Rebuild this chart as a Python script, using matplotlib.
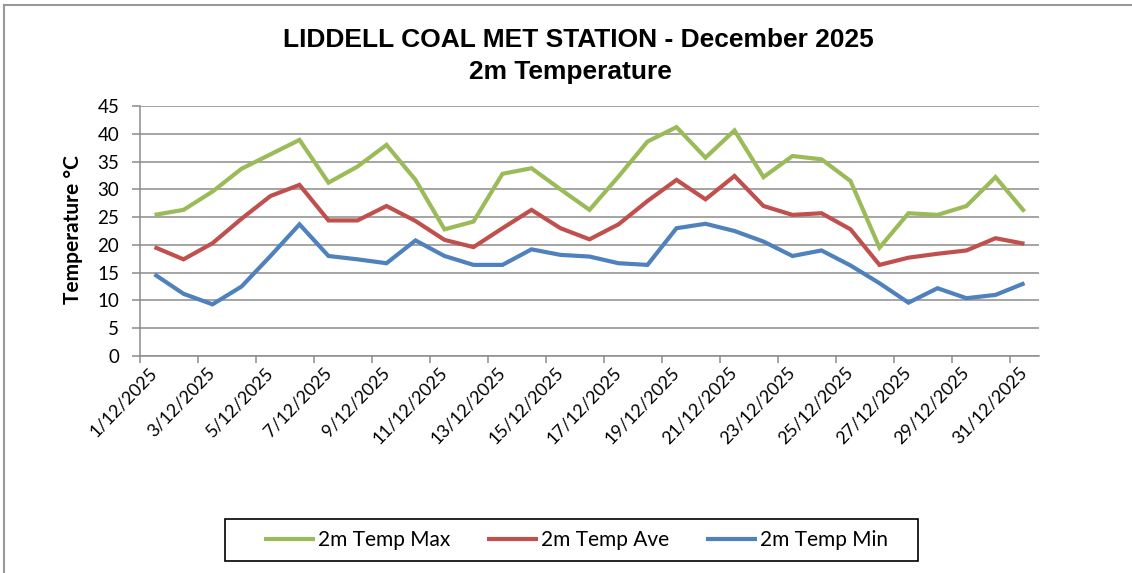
import matplotlib
matplotlib.use("Agg")
import matplotlib.pyplot as plt
from matplotlib.lines import Line2D
from matplotlib.patches import Rectangle
import numpy as np

# Daily 2 m air temperatures, December 2025 (°C)
days = [f"{d}/12/2025" for d in range(1, 32)]
temp_max = [25.4, 26.3, 29.6, 33.7, 36.3, 38.9, 31.2, 34.1, 38.0, 31.7,
            22.8, 24.2, 32.8, 33.8, 30.0, 26.3, 32.3, 38.6, 41.2, 35.7,
            40.6, 32.2, 36.0, 35.4, 31.5, 19.5, 25.7, 25.4, 27.0, 32.2, 26.0]
temp_ave = [19.6, 17.4, 20.3, 24.7, 28.8, 30.8, 24.4, 24.4, 27.0, 24.3,
            20.9, 19.6, 23.0, 26.3, 23.0, 21.0, 23.7, 27.9, 31.7, 28.2,
            32.4, 27.0, 25.4, 25.7, 22.8, 16.4, 17.7, 18.4, 19.0, 21.2, 20.2]
temp_min = [14.7, 11.2, 9.3, 12.5, 18.0, 23.7, 18.0, 17.4, 16.7, 20.8,
            18.0, 16.4, 16.4, 19.2, 18.2, 17.9, 16.7, 16.4, 23.0, 23.8,
            22.5, 20.6, 18.0, 19.0, 16.3, 13.1, 9.6, 12.2, 10.4, 11.0, 13.1]
series_labels = ["2m Temp Max", "2m Temp Ave", "2m Temp Min"]
y_ticks = list(range(0, 50, 5))

colors = ["#9BBB59", "#C0504D", "#4F81BD"]
grid_color = "#8C8C8C"
label_font = "Lato"

W, H = 1132, 573
fig = plt.figure(figsize=(W / 100, H / 100), dpi=100)
ax = fig.add_axes([140 / W, 1 - 356 / H, (1039 - 140) / W, (356 - 106) / H])

x = np.arange(len(days))
for vals, col, lab in zip([temp_max, temp_ave, temp_min], colors, series_labels):
    ax.plot(x, vals, color=col, lw=3.0, label=lab, solid_joinstyle="miter",
            solid_capstyle="butt")

ax.set_xlim(-0.5, len(days) - 0.5)
ax.set_ylim(0, 45)
ax.set_yticks(y_ticks)
ax.set_yticklabels([str(v) for v in y_ticks], fontfamily=label_font, fontsize=13.5)
ax.yaxis.grid(True, color=grid_color, lw=1.1)
ax.set_axisbelow(True)

# tick marks on category boundaries, labels on every second day
ax.set_xticks(np.arange(-0.5, len(days) - 1, 2))
ax.set_xticklabels([])
ax.set_xticks(x[::2], minor=True)
ax.set_xticklabels(days[::2], minor=True, rotation=46, ha="right", va="center",
                   rotation_mode="anchor", fontfamily=label_font, fontsize=13)
ax.tick_params(axis="x", which="major", length=5, width=1.1, color=grid_color)
ax.tick_params(axis="x", which="minor", length=0, pad=10)
ax.tick_params(axis="y", length=6, width=1.1, color=grid_color, pad=9)

for s in ["top", "right"]:
    ax.spines[s].set_visible(False)
for s in ["left", "bottom"]:
    ax.spines[s].set_color(grid_color)
    ax.spines[s].set_linewidth(1.1)

fig.text(578 / W, 1 - 40 / H, "LIDDELL COAL MET STATION - December 2025",
         ha="center", va="center", fontsize=19, fontweight="bold",
         fontfamily="Liberation Sans")
fig.text(570 / W, 1 - 72 / H, "2m Temperature",
         ha="center", va="center", fontsize=19, fontweight="bold",
         fontfamily="Liberation Sans")
fig.text(73 / W, 1 - 230 / H, "Temperature °C", rotation=90, ha="center",
         va="center", fontsize=15, fontweight="bold", fontfamily=label_font)

# legend entries, with a separate black box around them
fig.legend(loc="center", bbox_to_anchor=(576 / W, 1 - 540 / H), ncol=3,
           frameon=False, prop={"family": label_font, "size": 15},
           handlelength=2.45, handletextpad=0.15, columnspacing=1.75,
           borderpad=0.45, borderaxespad=0)
fig.add_artist(Rectangle((225 / W, 1 - 561 / H), (918 - 225) / W, 42 / H,
                         transform=fig.transFigure, fill=False,
                         edgecolor="black", lw=1.2))

# outer chart frame (top and left edges)
fig.add_artist(Line2D([3.5 / W, 1], [1 - 4.5 / H, 1 - 4.5 / H],
                      transform=fig.transFigure, color="#999999", lw=1.5))
fig.add_artist(Line2D([3.5 / W, 3.5 / W], [0, 1 - 4.5 / H],
                      transform=fig.transFigure, color="#999999", lw=1.5))

fig.savefig("out.png", dpi=100)
